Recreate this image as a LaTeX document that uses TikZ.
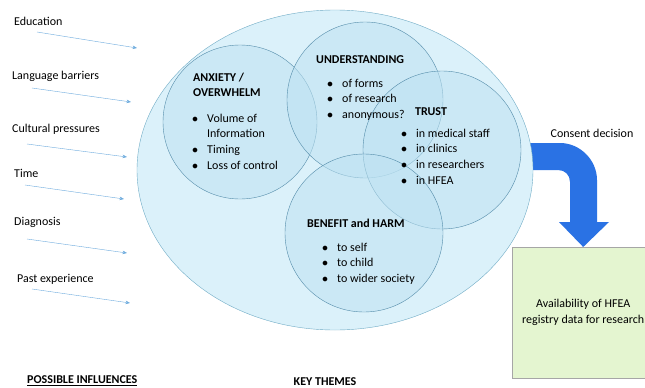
\documentclass[tikz,border=0pt]{standalone}
\usepackage{fontspec}
\setmainfont{Carlito}
\usepackage{tikz}
\usetikzlibrary{positioning, arrows.meta}
\definecolor{ThemeFill}{RGB}{219,241,250}
\definecolor{ThemeEdge}{RGB}{112,172,198}
\definecolor{CircleFill}{RGB}{190,226,242}
\definecolor{CircleEdge}{RGB}{84,140,170}
\definecolor{InfluenceBlue}{RGB}{110,172,222}
\definecolor{ConsentBlue}{RGB}{42,114,228}
\definecolor{OutcomeGreen}{RGB}{228,245,208}

\tikzset{
  txt/.style={font=\fontsize{12}{15.8}\selectfont, inner sep=0pt},
  head/.style={txt, font=\fontsize{12}{15}\selectfont\bfseries, align=left},
  theme/.style={draw=CircleEdge, fill=CircleFill, fill opacity=0.55, thin},
  influence/.style={InfluenceBlue, thin, -{Stealth[length=4.5pt, width=3.5pt]}}
}
\newcommand{\blist}[1]{\begin{tabular}[t]{@{}l@{\hspace{9pt}}l@{}}#1\end{tabular}}

\begin{document}
\begin{tikzpicture}[x=1pt, y=-1pt]
    \useasboundingbox (0,0) rectangle (645,388);
    \fill[white] (0,0) rectangle (645,388);
    \clip (0,0) rectangle (645,388);

    % Possible influences
    \foreach \i/\txt/\lx/\ly/\ax/\ay/\bx/\by in {
        1/Education/14/21/37/32/137/48,
        2/Language barriers/12/76/32/88/131/102,
        3/Cultural pressures/12/129/27/144/127/157,
        4/Time/14/173/25/185/124/199,
        5/Diagnosis/14/222/27/239/127/253,
        6/Past experience/17/279/32/289/130/303} {
      \node[txt, anchor=west] (inf\i) at (\lx,\ly) {\txt};
      \coordinate (from\i) at (\ax,\ay);
      \coordinate (to\i) at (\bx,\by);
      \draw[influence] (from\i) -- (to\i);
    }

    % Outcome box and consent arrow
    \node[draw=gray!70, fill=OutcomeGreen, minimum width=142pt, minimum height=131pt,
          anchor=north west, txt, align=center] (outcome) at (512,247)
          {Availability of HFEA\\registry data for research};
    \fill[ConsentBlue] (525,143) -- (560,143) .. controls (580,143) and (597,160) .. (597,180)
        -- (597,222) -- (609,222) -- (outcome.north) -- (559,222) -- (570,222) -- (570,182)
        .. controls (570,175) and (565,170) .. (558,170) -- (525,170) -- cycle;
    \node[txt] (consent) at (592,133) {Consent decision};

    % Key themes
    \fill[ThemeFill, draw=ThemeEdge] (335,170) ellipse[x radius=198, y radius=160];
    \draw[theme] (240,122) circle[radius=77];
    \draw[theme] (365,100) circle[radius=78];
    \draw[theme] (442,150) circle[radius=79];
    \draw[theme] (364,233) circle[radius=79];

    \node[head, anchor=north west] (anxiety) at (193,73) {ANXIETY /\\OVERWHELM};
    \node[txt, anchor=base west] (anxlist) at (192,122)
      {\blist{$\bullet$ & Volume of\\ & Information\\ $\bullet$ & Timing\\ $\bullet$ & Loss of control}};

    \node[head, anchor=west] (understanding) at (316,60) {UNDERSTANDING};
    \node[txt, anchor=base west] (undlist) at (327,87)
      {\blist{$\bullet$ & of forms\\ $\bullet$ & of research\\ $\bullet$ & anonymous?}};

    \node[head, anchor=west] (trust) at (415,112) {TRUST};
    \node[txt, anchor=base west] (trustlist) at (401,137)
      {\blist{$\bullet$ & in medical staff\\ $\bullet$ & in clinics\\ $\bullet$ & in researchers\\ $\bullet$ & in HFEA}};

    \node[head, anchor=west] (benefit) at (307,223) {BENEFIT and HARM};
    \node[txt, anchor=base west] (benlist) at (322,251)
      {\blist{$\bullet$ & to self\\ $\bullet$ & to child\\ $\bullet$ & to wider society}};

    % Column captions
    \node[head, anchor=west] (influences) at (27,381) {\underline{POSSIBLE INFLUENCES}};
    \node[head] (keythemes) at (325,382) {KEY THEMES};
\end{tikzpicture}
\end{document}
